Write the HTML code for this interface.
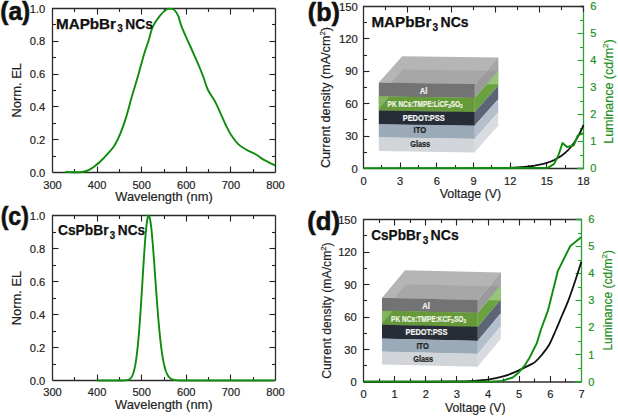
<!DOCTYPE html><html><head><meta charset="utf-8"><style>html,body{margin:0;padding:0;background:#fff;}svg{display:block;}text{font-family:"Liberation Sans",sans-serif;}</style></head><body>
<svg width="618" height="417" viewBox="0 0 618 417">
<rect width="618" height="417" fill="#fff"/>
<line x1="74.5" y1="172.5" x2="74.5" y2="169" stroke="#222222" stroke-width="1.1"/>
<line x1="74.5" y1="8.5" x2="74.5" y2="12" stroke="#222222" stroke-width="1.1"/>
<line x1="97.5" y1="172.5" x2="97.5" y2="166.5" stroke="#222222" stroke-width="1.1"/>
<line x1="97.5" y1="8.5" x2="97.5" y2="14.5" stroke="#222222" stroke-width="1.1"/>
<line x1="119.5" y1="172.5" x2="119.5" y2="169" stroke="#222222" stroke-width="1.1"/>
<line x1="119.5" y1="8.5" x2="119.5" y2="12" stroke="#222222" stroke-width="1.1"/>
<line x1="141.5" y1="172.5" x2="141.5" y2="166.5" stroke="#222222" stroke-width="1.1"/>
<line x1="141.5" y1="8.5" x2="141.5" y2="14.5" stroke="#222222" stroke-width="1.1"/>
<line x1="164.5" y1="172.5" x2="164.5" y2="169" stroke="#222222" stroke-width="1.1"/>
<line x1="164.5" y1="8.5" x2="164.5" y2="12" stroke="#222222" stroke-width="1.1"/>
<line x1="186.5" y1="172.5" x2="186.5" y2="166.5" stroke="#222222" stroke-width="1.1"/>
<line x1="186.5" y1="8.5" x2="186.5" y2="14.5" stroke="#222222" stroke-width="1.1"/>
<line x1="208.5" y1="172.5" x2="208.5" y2="169" stroke="#222222" stroke-width="1.1"/>
<line x1="208.5" y1="8.5" x2="208.5" y2="12" stroke="#222222" stroke-width="1.1"/>
<line x1="230.5" y1="172.5" x2="230.5" y2="166.5" stroke="#222222" stroke-width="1.1"/>
<line x1="230.5" y1="8.5" x2="230.5" y2="14.5" stroke="#222222" stroke-width="1.1"/>
<line x1="253.5" y1="172.5" x2="253.5" y2="169" stroke="#222222" stroke-width="1.1"/>
<line x1="253.5" y1="8.5" x2="253.5" y2="12" stroke="#222222" stroke-width="1.1"/>
<line x1="52.5" y1="156.5" x2="56" y2="156.5" stroke="#222222" stroke-width="1.1"/>
<line x1="275.5" y1="156.5" x2="272" y2="156.5" stroke="#222222" stroke-width="1.1"/>
<line x1="52.5" y1="139.5" x2="58.5" y2="139.5" stroke="#222222" stroke-width="1.1"/>
<line x1="275.5" y1="139.5" x2="269.5" y2="139.5" stroke="#222222" stroke-width="1.1"/>
<line x1="52.5" y1="123.5" x2="56" y2="123.5" stroke="#222222" stroke-width="1.1"/>
<line x1="275.5" y1="123.5" x2="272" y2="123.5" stroke="#222222" stroke-width="1.1"/>
<line x1="52.5" y1="106.5" x2="58.5" y2="106.5" stroke="#222222" stroke-width="1.1"/>
<line x1="275.5" y1="106.5" x2="269.5" y2="106.5" stroke="#222222" stroke-width="1.1"/>
<line x1="52.5" y1="90.5" x2="56" y2="90.5" stroke="#222222" stroke-width="1.1"/>
<line x1="275.5" y1="90.5" x2="272" y2="90.5" stroke="#222222" stroke-width="1.1"/>
<line x1="52.5" y1="74.5" x2="58.5" y2="74.5" stroke="#222222" stroke-width="1.1"/>
<line x1="275.5" y1="74.5" x2="269.5" y2="74.5" stroke="#222222" stroke-width="1.1"/>
<line x1="52.5" y1="57.5" x2="56" y2="57.5" stroke="#222222" stroke-width="1.1"/>
<line x1="275.5" y1="57.5" x2="272" y2="57.5" stroke="#222222" stroke-width="1.1"/>
<line x1="52.5" y1="41.5" x2="58.5" y2="41.5" stroke="#222222" stroke-width="1.1"/>
<line x1="275.5" y1="41.5" x2="269.5" y2="41.5" stroke="#222222" stroke-width="1.1"/>
<line x1="52.5" y1="24.5" x2="56" y2="24.5" stroke="#222222" stroke-width="1.1"/>
<line x1="275.5" y1="24.5" x2="272" y2="24.5" stroke="#222222" stroke-width="1.1"/>
<path d="M52.5,172.5 L52.5,8.5 L275.5,8.5" fill="none" stroke="#2b2b2b" stroke-width="1.3"/>
<path d="M52.5,172.5 L275.5,172.5" fill="none" stroke="#2b2b2b" stroke-width="1.3"/>
<path d="M275.5,8.5 L275.5,172.5" fill="none" stroke="#2b2b2b" stroke-width="1.3"/>
<text x="52.5" y="189" font-size="11.1" text-anchor="middle" fill="#222222" stroke="#222222" stroke-width="0.18" font-weight="normal">300</text>
<text x="97.1" y="189" font-size="11.1" text-anchor="middle" fill="#222222" stroke="#222222" stroke-width="0.18" font-weight="normal">400</text>
<text x="141.7" y="189" font-size="11.1" text-anchor="middle" fill="#222222" stroke="#222222" stroke-width="0.18" font-weight="normal">500</text>
<text x="186.3" y="189" font-size="11.1" text-anchor="middle" fill="#222222" stroke="#222222" stroke-width="0.18" font-weight="normal">600</text>
<text x="230.9" y="189" font-size="11.1" text-anchor="middle" fill="#222222" stroke="#222222" stroke-width="0.18" font-weight="normal">700</text>
<text x="275.5" y="189" font-size="11.1" text-anchor="middle" fill="#222222" stroke="#222222" stroke-width="0.18" font-weight="normal">800</text>
<text x="45.3" y="176.5" font-size="11.2" text-anchor="end" fill="#222222" stroke="#222222" stroke-width="0.18" font-weight="normal">0.0</text>
<text x="45.3" y="143.7" font-size="11.2" text-anchor="end" fill="#222222" stroke="#222222" stroke-width="0.18" font-weight="normal">0.2</text>
<text x="45.3" y="110.9" font-size="11.2" text-anchor="end" fill="#222222" stroke="#222222" stroke-width="0.18" font-weight="normal">0.4</text>
<text x="45.3" y="78.1" font-size="11.2" text-anchor="end" fill="#222222" stroke="#222222" stroke-width="0.18" font-weight="normal">0.6</text>
<text x="45.3" y="45.3" font-size="11.2" text-anchor="end" fill="#222222" stroke="#222222" stroke-width="0.18" font-weight="normal">0.8</text>
<text x="45.3" y="12.5" font-size="11.2" text-anchor="end" fill="#222222" stroke="#222222" stroke-width="0.18" font-weight="normal">1.0</text>
<text x="164" y="201.3" font-size="13.3" text-anchor="middle" fill="#222222" stroke="#222222" stroke-width="0.18" font-weight="normal" textLength="97.5" lengthAdjust="spacingAndGlyphs">Wavelength (nm)</text>
<text x="21.2" y="90.2" font-size="13" text-anchor="middle" fill="#222222" stroke="#222222" stroke-width="0.18" font-weight="normal" textLength="54.5" lengthAdjust="spacingAndGlyphs" transform="rotate(-90 21.2 90.2)">Norm. EL</text>
<path d="M65.2,172 C66.73,172.03 71.6,172.2 74.4,172.2 C77.2,172.2 79.98,172.2 82,172 C84.02,171.8 85.03,171.52 86.5,171 C87.97,170.48 89.28,169.83 90.8,168.9 C92.32,167.97 93.98,166.68 95.6,165.4 C97.22,164.12 98.42,163.22 100.5,161.2 C102.58,159.18 105.77,155.92 108.1,153.3 C110.43,150.68 112.47,148.78 114.5,145.5 C116.53,142.22 118.38,138.25 120.3,133.6 C122.22,128.95 124.1,123.68 126,117.6 C127.9,111.52 129.62,104.33 131.7,97.1 C133.78,89.87 136.42,81.43 138.5,74.2 C140.58,66.97 142.48,59.4 144.2,53.7 C145.92,48 147.37,44.52 148.8,40 C150.23,35.48 150.97,30.63 152.8,26.6 C154.63,22.57 157.55,18.65 159.8,15.8 C162.05,12.95 164.53,10.65 166.3,9.5 C168.07,8.35 169.13,8.88 170.4,8.9 C171.67,8.92 172.6,8.45 173.9,9.6 C175.2,10.75 176.9,12.93 178.2,15.8 C179.5,18.67 179.67,21.68 181.7,26.8 C183.73,31.92 187.52,39.97 190.4,46.5 C193.28,53.03 196.82,60.83 199,66 C201.18,71.17 202,73.5 203.5,77.5 C205,81.5 205.98,85.82 208,90 C210.02,94.18 212.72,96.93 215.6,102.6 C218.48,108.27 222.77,118.68 225.3,124 C227.83,129.32 228.6,131.1 230.8,134.5 C233,137.9 235.9,141.87 238.5,144.4 C241.1,146.93 243.33,147.93 246.4,149.7 C249.47,151.47 254.05,153.35 256.9,155 C259.75,156.65 260.42,157.85 263.5,159.6 C266.58,161.35 273.42,164.52 275.4,165.5" fill="none" stroke="#0e8c0e" stroke-width="1.9" stroke-linejoin="round"/>
<text x="0.3" y="20" font-size="25.4" font-weight="bold" fill="#111" stroke="#111" stroke-width="0.6" textLength="30" lengthAdjust="spacingAndGlyphs">(a)</text>
<text x="56" y="28.6" font-size="15.3" font-weight="bold" fill="#111" stroke="#111" stroke-width="0.25" textLength="60" lengthAdjust="spacingAndGlyphs">MAPbBr</text>
<text x="117.2" y="32.3" font-size="11" font-weight="bold" fill="#111" stroke="#111" stroke-width="0.25" textLength="5.6" lengthAdjust="spacingAndGlyphs">3</text>
<text x="125.3" y="28.6" font-size="15.3" font-weight="bold" fill="#111" stroke="#111" stroke-width="0.25" textLength="27.6" lengthAdjust="spacingAndGlyphs">NCs</text>
<line x1="74.5" y1="380.5" x2="74.5" y2="377" stroke="#222222" stroke-width="1.1"/>
<line x1="74.5" y1="215.5" x2="74.5" y2="219" stroke="#222222" stroke-width="1.1"/>
<line x1="97.5" y1="380.5" x2="97.5" y2="374.5" stroke="#222222" stroke-width="1.1"/>
<line x1="97.5" y1="215.5" x2="97.5" y2="221.5" stroke="#222222" stroke-width="1.1"/>
<line x1="119.5" y1="380.5" x2="119.5" y2="377" stroke="#222222" stroke-width="1.1"/>
<line x1="119.5" y1="215.5" x2="119.5" y2="219" stroke="#222222" stroke-width="1.1"/>
<line x1="141.5" y1="380.5" x2="141.5" y2="374.5" stroke="#222222" stroke-width="1.1"/>
<line x1="141.5" y1="215.5" x2="141.5" y2="221.5" stroke="#222222" stroke-width="1.1"/>
<line x1="164.5" y1="380.5" x2="164.5" y2="377" stroke="#222222" stroke-width="1.1"/>
<line x1="164.5" y1="215.5" x2="164.5" y2="219" stroke="#222222" stroke-width="1.1"/>
<line x1="186.5" y1="380.5" x2="186.5" y2="374.5" stroke="#222222" stroke-width="1.1"/>
<line x1="186.5" y1="215.5" x2="186.5" y2="221.5" stroke="#222222" stroke-width="1.1"/>
<line x1="208.5" y1="380.5" x2="208.5" y2="377" stroke="#222222" stroke-width="1.1"/>
<line x1="208.5" y1="215.5" x2="208.5" y2="219" stroke="#222222" stroke-width="1.1"/>
<line x1="230.5" y1="380.5" x2="230.5" y2="374.5" stroke="#222222" stroke-width="1.1"/>
<line x1="230.5" y1="215.5" x2="230.5" y2="221.5" stroke="#222222" stroke-width="1.1"/>
<line x1="253.5" y1="380.5" x2="253.5" y2="377" stroke="#222222" stroke-width="1.1"/>
<line x1="253.5" y1="215.5" x2="253.5" y2="219" stroke="#222222" stroke-width="1.1"/>
<line x1="52.5" y1="364.5" x2="56" y2="364.5" stroke="#222222" stroke-width="1.1"/>
<line x1="275.5" y1="364.5" x2="272" y2="364.5" stroke="#222222" stroke-width="1.1"/>
<line x1="52.5" y1="347.5" x2="58.5" y2="347.5" stroke="#222222" stroke-width="1.1"/>
<line x1="275.5" y1="347.5" x2="269.5" y2="347.5" stroke="#222222" stroke-width="1.1"/>
<line x1="52.5" y1="331.5" x2="56" y2="331.5" stroke="#222222" stroke-width="1.1"/>
<line x1="275.5" y1="331.5" x2="272" y2="331.5" stroke="#222222" stroke-width="1.1"/>
<line x1="52.5" y1="314.5" x2="58.5" y2="314.5" stroke="#222222" stroke-width="1.1"/>
<line x1="275.5" y1="314.5" x2="269.5" y2="314.5" stroke="#222222" stroke-width="1.1"/>
<line x1="52.5" y1="298.5" x2="56" y2="298.5" stroke="#222222" stroke-width="1.1"/>
<line x1="275.5" y1="298.5" x2="272" y2="298.5" stroke="#222222" stroke-width="1.1"/>
<line x1="52.5" y1="281.5" x2="58.5" y2="281.5" stroke="#222222" stroke-width="1.1"/>
<line x1="275.5" y1="281.5" x2="269.5" y2="281.5" stroke="#222222" stroke-width="1.1"/>
<line x1="52.5" y1="265.5" x2="56" y2="265.5" stroke="#222222" stroke-width="1.1"/>
<line x1="275.5" y1="265.5" x2="272" y2="265.5" stroke="#222222" stroke-width="1.1"/>
<line x1="52.5" y1="248.5" x2="58.5" y2="248.5" stroke="#222222" stroke-width="1.1"/>
<line x1="275.5" y1="248.5" x2="269.5" y2="248.5" stroke="#222222" stroke-width="1.1"/>
<line x1="52.5" y1="232.5" x2="56" y2="232.5" stroke="#222222" stroke-width="1.1"/>
<line x1="275.5" y1="232.5" x2="272" y2="232.5" stroke="#222222" stroke-width="1.1"/>
<path d="M52.5,380.5 L52.5,215.5 L275.5,215.5" fill="none" stroke="#2b2b2b" stroke-width="1.3"/>
<path d="M52.5,380.5 L275.5,380.5" fill="none" stroke="#2b2b2b" stroke-width="1.3"/>
<path d="M275.5,215.5 L275.5,380.5" fill="none" stroke="#2b2b2b" stroke-width="1.3"/>
<text x="52.5" y="396.3" font-size="11.1" text-anchor="middle" fill="#222222" stroke="#222222" stroke-width="0.18" font-weight="normal">300</text>
<text x="97.1" y="396.3" font-size="11.1" text-anchor="middle" fill="#222222" stroke="#222222" stroke-width="0.18" font-weight="normal">400</text>
<text x="141.7" y="396.3" font-size="11.1" text-anchor="middle" fill="#222222" stroke="#222222" stroke-width="0.18" font-weight="normal">500</text>
<text x="186.3" y="396.3" font-size="11.1" text-anchor="middle" fill="#222222" stroke="#222222" stroke-width="0.18" font-weight="normal">600</text>
<text x="230.9" y="396.3" font-size="11.1" text-anchor="middle" fill="#222222" stroke="#222222" stroke-width="0.18" font-weight="normal">700</text>
<text x="275.5" y="396.3" font-size="11.1" text-anchor="middle" fill="#222222" stroke="#222222" stroke-width="0.18" font-weight="normal">800</text>
<text x="45.3" y="384.5" font-size="11.2" text-anchor="end" fill="#222222" stroke="#222222" stroke-width="0.18" font-weight="normal">0.0</text>
<text x="45.3" y="351.5" font-size="11.2" text-anchor="end" fill="#222222" stroke="#222222" stroke-width="0.18" font-weight="normal">0.2</text>
<text x="45.3" y="318.5" font-size="11.2" text-anchor="end" fill="#222222" stroke="#222222" stroke-width="0.18" font-weight="normal">0.4</text>
<text x="45.3" y="285.5" font-size="11.2" text-anchor="end" fill="#222222" stroke="#222222" stroke-width="0.18" font-weight="normal">0.6</text>
<text x="45.3" y="252.5" font-size="11.2" text-anchor="end" fill="#222222" stroke="#222222" stroke-width="0.18" font-weight="normal">0.8</text>
<text x="45.3" y="219.5" font-size="11.2" text-anchor="end" fill="#222222" stroke="#222222" stroke-width="0.18" font-weight="normal">1.0</text>
<text x="163.8" y="409.4" font-size="13.3" text-anchor="middle" fill="#222222" stroke="#222222" stroke-width="0.18" font-weight="normal" textLength="97.5" lengthAdjust="spacingAndGlyphs">Wavelength (nm)</text>
<text x="21.2" y="298" font-size="13" text-anchor="middle" fill="#222222" stroke="#222222" stroke-width="0.18" font-weight="normal" textLength="54.5" lengthAdjust="spacingAndGlyphs" transform="rotate(-90 21.2 298)">Norm. EL</text>
<path d="M97.1,380.5 L99.33,380.5 L101.56,380.5 L103.79,380.5 L106.02,380.5 L108.25,380.5 L110.48,380.5 L112.71,380.5 L114.94,380.5 L115.39,380.5 L115.83,380.5 L116.28,380.5 L116.72,380.5 L117.17,380.5 L117.62,380.5 L118.06,380.5 L118.51,380.5 L118.95,380.5 L119.4,380.5 L119.85,380.5 L120.29,380.5 L120.74,380.49 L121.18,380.49 L121.63,380.49 L122.08,380.49 L122.52,380.48 L122.97,380.47 L123.41,380.46 L123.86,380.45 L124.31,380.43 L124.75,380.41 L125.2,380.38 L125.64,380.35 L126.09,380.3 L126.54,380.24 L126.98,380.17 L127.43,380.07 L127.87,379.95 L128.32,379.8 L128.77,379.61 L129.21,379.38 L129.66,379.09 L130.1,378.75 L130.55,378.32 L131,377.81 L131.44,377.2 L131.89,376.47 L132.33,375.6 L132.78,374.58 L133.23,373.38 L133.67,371.98 L134.12,370.37 L134.56,368.51 L135.01,366.38 L135.46,363.96 L135.9,361.23 L136.35,358.17 L136.79,354.75 L137.24,350.97 L137.69,346.81 L138.13,342.27 L138.58,337.34 L139.02,332.03 L139.47,326.35 L139.92,320.32 L140.36,313.97 L140.81,307.34 L141.25,300.47 L141.7,293.4 L142.15,286.22 L142.59,278.97 L143.04,271.74 L143.48,264.61 L143.93,257.65 L144.38,250.96 L144.82,244.62 L145.27,238.72 L145.71,233.33 L146.16,228.54 L146.61,224.42 L147.05,221.02 L147.5,218.4 L147.94,216.61 L148.39,215.66 L148.84,215.56 L149.28,216.25 L149.73,217.69 L150.17,219.83 L150.62,222.66 L151.07,226.1 L151.51,230.12 L151.96,234.65 L152.4,239.64 L152.85,245 L153.3,250.69 L153.74,256.62 L154.19,262.75 L154.63,269 L155.08,275.31 L155.53,281.63 L155.97,287.91 L156.42,294.1 L156.86,300.17 L157.31,306.06 L157.76,311.76 L158.2,317.23 L158.65,322.46 L159.09,327.43 L159.54,332.13 L159.99,336.55 L160.43,340.69 L160.88,344.55 L161.32,348.13 L161.77,351.44 L162.22,354.48 L162.66,357.28 L163.11,359.83 L163.55,362.15 L164,364.26 L164.45,366.16 L164.89,367.87 L165.34,369.41 L165.78,370.78 L166.23,372 L166.68,373.09 L167.12,374.06 L167.57,374.91 L168.01,375.66 L168.46,376.32 L168.91,376.9 L169.35,377.4 L169.8,377.84 L170.24,378.22 L170.69,378.56 L171.14,378.84 L171.58,379.09 L172.03,379.3 L172.47,379.48 L172.92,379.64 L173.37,379.77 L173.81,379.89 L174.26,379.99 L174.7,380.07 L175.15,380.14 L175.6,380.2 L176.04,380.25 L176.49,380.29 L176.93,380.32 L177.38,380.35 L177.83,380.38 L178.27,380.4 L178.72,380.42 L179.16,380.43 L179.61,380.44 L180.06,380.45 L180.5,380.46 L180.95,380.47 L181.39,380.47 L181.84,380.48 L182.29,380.48 L182.73,380.49 L183.18,380.49 L183.62,380.49 L184.07,380.49 L184.52,380.49 L186.75,380.5 L188.98,380.5 L191.21,380.5 L193.44,380.5 L195.67,380.5 L197.9,380.5 L200.13,380.5 L202.36,380.5 L204.59,380.5 L206.82,380.5 L209.05,380.5 L211.28,380.5 L213.51,380.5 L215.74,380.5 L217.97,380.5 L220.2,380.5 L222.43,380.5 L224.66,380.5 L226.89,380.5 L229.12,380.5 L231.35,380.5 L233.58,380.5 L235.81,380.5 L238.04,380.5 L240.27,380.5 L242.5,380.5 L244.73,380.5 L246.96,380.5 L249.19,380.5 L251.42,380.5 L253.65,380.5 L255.88,380.5 L258.11,380.5 L260.34,380.5 L262.57,380.5 L264.8,380.5 L267.03,380.5 L269.26,380.5 L271.49,380.5 L273.72,380.5" fill="none" stroke="#0e8c0e" stroke-width="1.9" stroke-linejoin="round"/>
<text x="0.7" y="225.3" font-size="25.4" font-weight="bold" fill="#111" stroke="#111" stroke-width="0.6" textLength="28.2" lengthAdjust="spacingAndGlyphs">(c)</text>
<text x="58" y="234.6" font-size="15.3" font-weight="bold" fill="#111" stroke="#111" stroke-width="0.25" textLength="50.5" lengthAdjust="spacingAndGlyphs">CsPbBr</text>
<text x="109.7" y="239.4" font-size="11" font-weight="bold" fill="#111" stroke="#111" stroke-width="0.25" textLength="5.4" lengthAdjust="spacingAndGlyphs">3</text>
<text x="117.8" y="234.6" font-size="15.3" font-weight="bold" fill="#111" stroke="#111" stroke-width="0.25" textLength="27.3" lengthAdjust="spacingAndGlyphs">NCs</text>
<g transform="translate(378.8 82.6) skewY(0.85) translate(-378.8 -82.6)">
<polygon points="474.8,82.6 498.2,55.8 498.2,69.5 474.8,96.3" fill="#9b9b9b"/>
<polygon points="474.8,96.3 498.2,69.5 498.2,83.7 474.8,110.5" fill="#6aa23f"/>
<polygon points="474.8,110.5 498.2,83.7 498.2,97.4 474.8,124.2" fill="#5b6576"/>
<polygon points="474.8,124.2 498.2,97.4 498.2,110.5 474.8,137.3" fill="#b3bfcc"/>
<polygon points="474.8,137.3 498.2,110.5 498.2,123.9 474.8,150.7" fill="#d8dce0"/>
<polygon points="486.76,82.6 498.2,69.5 498.2,82.6" fill="#97c47a"/>
<polygon points="486.5,69.2 498.2,55.8 498.2,69.2" fill="#a6a6a6"/>
<polygon points="378.8,82.6 402.2,55.8 498.2,55.8 474.8,82.6" fill="#b5b5b5"/>
<polygon points="391.4,82.6 403.1,69.2 486.5,69.2 474.8,82.6" fill="#a7a7a7"/>
<rect x="378.8" y="82.6" width="96" height="14" fill="#737373"/>
<rect x="378.8" y="96.3" width="96" height="14.5" fill="#66993a"/>
<rect x="378.8" y="110.5" width="96" height="14" fill="#272d37"/>
<rect x="378.8" y="124.2" width="96" height="13.4" fill="#9baab9"/>
<rect x="378.8" y="137.3" width="96" height="13.7" fill="#d1d5d9"/>
<polygon points="378.8,96.6 389.3,96.6 378.8,109.08" fill="#84b462"/>
</g>
<text x="419.8" y="94.1" font-size="8.6" font-weight="bold" fill="#f2f2f2" stroke="#f2f2f2" stroke-width="0.2" textLength="7.7" lengthAdjust="spacingAndGlyphs">Al</text>
<text x="387.6" y="106.9" font-size="8.6" font-weight="bold" fill="#eef5e6" stroke="#eef5e6" stroke-width="0.2" textLength="75" lengthAdjust="spacingAndGlyphs">PK NCs:TMPE:LiCF<tspan font-size="6" dy="1.5">3</tspan><tspan dy="-1.5">SO</tspan><tspan font-size="6" dy="1.5">3</tspan></text>
<text x="402.7" y="120.6" font-size="8.6" font-weight="bold" fill="#f4f4f4" stroke="#f4f4f4" stroke-width="0.2" textLength="42" lengthAdjust="spacingAndGlyphs">PEDOT:PSS</text>
<text x="413.6" y="133.2" font-size="8.6" font-weight="bold" fill="#1e1e1e" stroke="#1e1e1e" stroke-width="0.2" textLength="12.5" lengthAdjust="spacingAndGlyphs">ITO</text>
<text x="410.2" y="146.6" font-size="8.6" font-weight="bold" fill="#1e1e1e" stroke="#1e1e1e" stroke-width="0.2" textLength="20" lengthAdjust="spacingAndGlyphs">Glass</text>
<line x1="381.5" y1="168.5" x2="381.5" y2="165" stroke="#222222" stroke-width="1.1"/>
<line x1="400.5" y1="168.5" x2="400.5" y2="162.5" stroke="#222222" stroke-width="1.1"/>
<line x1="418.5" y1="168.5" x2="418.5" y2="165" stroke="#222222" stroke-width="1.1"/>
<line x1="436.5" y1="168.5" x2="436.5" y2="162.5" stroke="#222222" stroke-width="1.1"/>
<line x1="455.5" y1="168.5" x2="455.5" y2="165" stroke="#222222" stroke-width="1.1"/>
<line x1="473.5" y1="168.5" x2="473.5" y2="162.5" stroke="#222222" stroke-width="1.1"/>
<line x1="491.5" y1="168.5" x2="491.5" y2="165" stroke="#222222" stroke-width="1.1"/>
<line x1="510.5" y1="168.5" x2="510.5" y2="162.5" stroke="#222222" stroke-width="1.1"/>
<line x1="528.5" y1="168.5" x2="528.5" y2="165" stroke="#222222" stroke-width="1.1"/>
<line x1="546.5" y1="168.5" x2="546.5" y2="162.5" stroke="#222222" stroke-width="1.1"/>
<line x1="565.5" y1="168.5" x2="565.5" y2="165" stroke="#222222" stroke-width="1.1"/>
<line x1="385.5" y1="6.5" x2="385.5" y2="10" stroke="#222222" stroke-width="1.1"/>
<line x1="407.5" y1="6.5" x2="407.5" y2="12.5" stroke="#222222" stroke-width="1.1"/>
<line x1="429.5" y1="6.5" x2="429.5" y2="10" stroke="#222222" stroke-width="1.1"/>
<line x1="451.5" y1="6.5" x2="451.5" y2="12.5" stroke="#222222" stroke-width="1.1"/>
<line x1="473.5" y1="6.5" x2="473.5" y2="10" stroke="#222222" stroke-width="1.1"/>
<line x1="495.5" y1="6.5" x2="495.5" y2="12.5" stroke="#222222" stroke-width="1.1"/>
<line x1="517.5" y1="6.5" x2="517.5" y2="10" stroke="#222222" stroke-width="1.1"/>
<line x1="539.5" y1="6.5" x2="539.5" y2="12.5" stroke="#222222" stroke-width="1.1"/>
<line x1="561.5" y1="6.5" x2="561.5" y2="10" stroke="#222222" stroke-width="1.1"/>
<line x1="363.5" y1="152.5" x2="367" y2="152.5" stroke="#222222" stroke-width="1.1"/>
<line x1="363.5" y1="136.5" x2="369.5" y2="136.5" stroke="#222222" stroke-width="1.1"/>
<line x1="363.5" y1="119.5" x2="367" y2="119.5" stroke="#222222" stroke-width="1.1"/>
<line x1="363.5" y1="103.5" x2="369.5" y2="103.5" stroke="#222222" stroke-width="1.1"/>
<line x1="363.5" y1="87.5" x2="367" y2="87.5" stroke="#222222" stroke-width="1.1"/>
<line x1="363.5" y1="71.5" x2="369.5" y2="71.5" stroke="#222222" stroke-width="1.1"/>
<line x1="363.5" y1="55.5" x2="367" y2="55.5" stroke="#222222" stroke-width="1.1"/>
<line x1="363.5" y1="38.5" x2="369.5" y2="38.5" stroke="#222222" stroke-width="1.1"/>
<line x1="363.5" y1="22.5" x2="367" y2="22.5" stroke="#222222" stroke-width="1.1"/>
<path d="M363.5,168.5 L363.5,6.5 L583.5,6.5" fill="none" stroke="#2b2b2b" stroke-width="1.3"/>
<path d="M363.5,168.5 L583.5,168.5" fill="none" stroke="#2b2b2b" stroke-width="1.3"/>
<line x1="583.5" y1="155.5" x2="580" y2="155.5" stroke="#2aa133" stroke-width="1.1"/>
<line x1="583.5" y1="141.5" x2="577.5" y2="141.5" stroke="#2aa133" stroke-width="1.1"/>
<line x1="583.5" y1="128.5" x2="580" y2="128.5" stroke="#2aa133" stroke-width="1.1"/>
<line x1="583.5" y1="114.5" x2="577.5" y2="114.5" stroke="#2aa133" stroke-width="1.1"/>
<line x1="583.5" y1="101.5" x2="580" y2="101.5" stroke="#2aa133" stroke-width="1.1"/>
<line x1="583.5" y1="87.5" x2="577.5" y2="87.5" stroke="#2aa133" stroke-width="1.1"/>
<line x1="583.5" y1="74.5" x2="580" y2="74.5" stroke="#2aa133" stroke-width="1.1"/>
<line x1="583.5" y1="60.5" x2="577.5" y2="60.5" stroke="#2aa133" stroke-width="1.1"/>
<line x1="583.5" y1="47.5" x2="580" y2="47.5" stroke="#2aa133" stroke-width="1.1"/>
<line x1="583.5" y1="33.5" x2="577.5" y2="33.5" stroke="#2aa133" stroke-width="1.1"/>
<line x1="583.5" y1="20.5" x2="580" y2="20.5" stroke="#2aa133" stroke-width="1.1"/>
<path d="M577,168.5 L583.5,168.5 L583.5,12" fill="none" stroke="#2aa133" stroke-width="1.3"/>
<path d="M580.5,6.5 L583.5,6.5 L583.5,12" fill="none" stroke="#2b2b2b" stroke-width="1.3"/>
<text x="363.5" y="184.5" font-size="11.1" text-anchor="middle" fill="#222222" stroke="#222222" stroke-width="0.18" font-weight="normal">0</text>
<text x="400.17" y="184.5" font-size="11.1" text-anchor="middle" fill="#222222" stroke="#222222" stroke-width="0.18" font-weight="normal">3</text>
<text x="436.83" y="184.5" font-size="11.1" text-anchor="middle" fill="#222222" stroke="#222222" stroke-width="0.18" font-weight="normal">6</text>
<text x="473.5" y="184.5" font-size="11.1" text-anchor="middle" fill="#222222" stroke="#222222" stroke-width="0.18" font-weight="normal">9</text>
<text x="510.17" y="184.5" font-size="11.1" text-anchor="middle" fill="#222222" stroke="#222222" stroke-width="0.18" font-weight="normal">12</text>
<text x="546.83" y="184.5" font-size="11.1" text-anchor="middle" fill="#222222" stroke="#222222" stroke-width="0.18" font-weight="normal">15</text>
<text x="583.5" y="184.5" font-size="11.1" text-anchor="middle" fill="#222222" stroke="#222222" stroke-width="0.18" font-weight="normal">18</text>
<text x="357.9" y="172.5" font-size="11.3" text-anchor="end" fill="#222222" stroke="#222222" stroke-width="0.18" font-weight="normal">0</text>
<text x="357.9" y="140.1" font-size="11.3" text-anchor="end" fill="#222222" stroke="#222222" stroke-width="0.18" font-weight="normal">30</text>
<text x="357.9" y="107.7" font-size="11.3" text-anchor="end" fill="#222222" stroke="#222222" stroke-width="0.18" font-weight="normal">60</text>
<text x="357.9" y="75.3" font-size="11.3" text-anchor="end" fill="#222222" stroke="#222222" stroke-width="0.18" font-weight="normal">90</text>
<text x="357.9" y="42.9" font-size="11.3" text-anchor="end" fill="#222222" stroke="#222222" stroke-width="0.18" font-weight="normal">120</text>
<text x="357.9" y="10.5" font-size="11.3" text-anchor="end" fill="#222222" stroke="#222222" stroke-width="0.18" font-weight="normal">150</text>
<text x="590.2" y="172.1" font-size="11.1" text-anchor="start" fill="#1b8f1b" stroke="#1b8f1b" stroke-width="0.18" font-weight="normal">0</text>
<text x="590.2" y="145.1" font-size="11.1" text-anchor="start" fill="#1b8f1b" stroke="#1b8f1b" stroke-width="0.18" font-weight="normal">1</text>
<text x="590.2" y="118.1" font-size="11.1" text-anchor="start" fill="#1b8f1b" stroke="#1b8f1b" stroke-width="0.18" font-weight="normal">2</text>
<text x="590.2" y="91.1" font-size="11.1" text-anchor="start" fill="#1b8f1b" stroke="#1b8f1b" stroke-width="0.18" font-weight="normal">3</text>
<text x="590.2" y="64.1" font-size="11.1" text-anchor="start" fill="#1b8f1b" stroke="#1b8f1b" stroke-width="0.18" font-weight="normal">4</text>
<text x="590.2" y="37.1" font-size="11.1" text-anchor="start" fill="#1b8f1b" stroke="#1b8f1b" stroke-width="0.18" font-weight="normal">5</text>
<text x="590.2" y="10.1" font-size="11.1" text-anchor="start" fill="#1b8f1b" stroke="#1b8f1b" stroke-width="0.18" font-weight="normal">6</text>
<text x="470.5" y="198.3" font-size="12.4" text-anchor="middle" fill="#222222" stroke="#222222" stroke-width="0.18" font-weight="normal" textLength="61.5" lengthAdjust="spacingAndGlyphs">Voltage (V)</text>
<text x="330.2" y="168" font-size="12.8" fill="#222" stroke="#222" stroke-width="0.18" transform="rotate(-90 330.2 168)" textLength="141" lengthAdjust="spacingAndGlyphs">Current density (mA/cm<tspan font-size="8" dy="-5">2</tspan><tspan dy="5">)</tspan></text>
<text x="613.3" y="143.8" font-size="12.5" fill="#1b8f1b" stroke="#1b8f1b" stroke-width="0.18" transform="rotate(-90 613.3 143.8)" textLength="104.5" lengthAdjust="spacingAndGlyphs">Luminance (cd/m<tspan font-size="8" dy="-5">2</tspan><tspan dy="5">)</tspan></text>
<path d="M497.94,168.13 L499.17,168.1 L500.39,168.07 L501.61,168.04 L502.83,168.01 L504.06,167.98 L505.28,167.94 L506.5,167.9 L507.72,167.86 L508.94,167.81 L510.17,167.77 L511.39,167.71 L512.61,167.66 L513.83,167.6 L515.06,167.54 L516.28,167.47 L517.5,167.4 L518.72,167.32 L519.94,167.23 L521.17,167.14 L522.39,167.05 L523.61,166.95 L524.83,166.84 L526.06,166.72 L527.28,166.6 L528.5,166.46 L529.72,166.32 L530.94,166.16 L532.17,166 L533.39,165.82 L534.61,165.64 L535.83,165.43 L537.06,165.22 L538.28,164.99 L539.5,164.74 L540.72,164.48 L541.94,164.19 L543.17,163.89 L544.39,163.56 L545.61,163.22 L546.83,162.85 L548.06,162.45 L549.28,162.02 L550.5,161.57 L551.72,161.08 L552.94,160.55 L554.17,159.99 L555.39,159.4 L556.61,158.76 L557.83,158.07 L559.06,157.34 L560.28,156.55 L561.5,155.71 L562.72,154.81 L563.94,153.84 L565.17,152.81 L566.39,151.71 L567.61,150.53 L568.83,149.26 L570.06,147.91 L571.28,146.46 L572.5,144.9 L573.72,143.24 L574.94,141.47 L576.17,139.56 L577.39,137.53 L578.61,135.34 L579.83,133.01 L581.06,130.51 L582.28,127.84 L583.5,124.98" fill="none" stroke="#111" stroke-width="1.8"/>
<path d="M363.5,168.1 L547.9,167.9 L554.1,163.9 L558.6,154.8 L562.5,143 L567,147 L573.8,145.3 L577.7,135.7 L581.1,134 L583.4,133.4" fill="none" stroke="#0e8c0e" stroke-width="1.9" stroke-linejoin="round"/>
<text x="307.8" y="20.6" font-size="25.4" font-weight="bold" fill="#111" stroke="#111" stroke-width="0.6" textLength="32" lengthAdjust="spacingAndGlyphs">(b)</text>
<text x="371.4" y="26.6" font-size="15.3" font-weight="bold" fill="#111" stroke="#111" stroke-width="0.25" textLength="60" lengthAdjust="spacingAndGlyphs">MAPbBr</text>
<text x="432.6" y="30.8" font-size="11" font-weight="bold" fill="#111" stroke="#111" stroke-width="0.25" textLength="5.6" lengthAdjust="spacingAndGlyphs">3</text>
<text x="440.6" y="26.6" font-size="15.3" font-weight="bold" fill="#111" stroke="#111" stroke-width="0.25" textLength="28" lengthAdjust="spacingAndGlyphs">NCs</text>
<g transform="translate(382 297.8) skewY(1.3) translate(-382 -297.8)">
<polygon points="477.8,297.8 500.8,269.8 500.8,282.6 477.8,310.6" fill="#9b9b9b"/>
<polygon points="477.8,310.6 500.8,282.6 500.8,296.7 477.8,324.7" fill="#6aa23f"/>
<polygon points="477.8,324.7 500.8,296.7 500.8,310.5 477.8,338.5" fill="#5b6576"/>
<polygon points="477.8,338.5 500.8,310.5 500.8,323.5 477.8,351.5" fill="#b3bfcc"/>
<polygon points="477.8,351.5 500.8,323.5 500.8,336.3 477.8,364.3" fill="#d8dce0"/>
<polygon points="488.31,297.8 500.8,282.6 500.8,297.8" fill="#97c47a"/>
<polygon points="489.3,283.8 500.8,269.8 500.8,283.8" fill="#a6a6a6"/>
<polygon points="382,297.8 405,269.8 500.8,269.8 477.8,297.8" fill="#b5b5b5"/>
<polygon points="394.6,297.8 406.1,283.8 489.3,283.8 477.8,297.8" fill="#a7a7a7"/>
<rect x="382" y="297.8" width="95.8" height="13.1" fill="#737373"/>
<rect x="382" y="310.6" width="95.8" height="14.4" fill="#66993a"/>
<rect x="382" y="324.7" width="95.8" height="14.1" fill="#272d37"/>
<rect x="382" y="338.5" width="95.8" height="13.3" fill="#9baab9"/>
<rect x="382" y="351.5" width="95.8" height="13.1" fill="#d1d5d9"/>
<polygon points="382,310.9 392.5,310.9 382,323.29" fill="#84b462"/>
</g>
<text x="422.3" y="309" font-size="8.6" font-weight="bold" fill="#f2f2f2" stroke="#f2f2f2" stroke-width="0.2" textLength="7.7" lengthAdjust="spacingAndGlyphs">Al</text>
<text x="391" y="321.6" font-size="8.6" font-weight="bold" fill="#eef5e6" stroke="#eef5e6" stroke-width="0.2" textLength="75" lengthAdjust="spacingAndGlyphs">PK NCs:TMPE:KCF<tspan font-size="6" dy="1.5">3</tspan><tspan dy="-1.5">SO</tspan><tspan font-size="6" dy="1.5">3</tspan></text>
<text x="405.5" y="335.3" font-size="8.6" font-weight="bold" fill="#f4f4f4" stroke="#f4f4f4" stroke-width="0.2" textLength="42" lengthAdjust="spacingAndGlyphs">PEDOT:PSS</text>
<text x="416.5" y="348.6" font-size="8.6" font-weight="bold" fill="#1e1e1e" stroke="#1e1e1e" stroke-width="0.2" textLength="12.5" lengthAdjust="spacingAndGlyphs">ITO</text>
<text x="413.2" y="361.6" font-size="8.6" font-weight="bold" fill="#1e1e1e" stroke="#1e1e1e" stroke-width="0.2" textLength="20" lengthAdjust="spacingAndGlyphs">Glass</text>
<line x1="379.5" y1="382" x2="379.5" y2="378.5" stroke="#222222" stroke-width="1.1"/>
<line x1="379.5" y1="219.5" x2="379.5" y2="223" stroke="#222222" stroke-width="1.1"/>
<line x1="394.5" y1="382" x2="394.5" y2="376" stroke="#222222" stroke-width="1.1"/>
<line x1="394.5" y1="219.5" x2="394.5" y2="225.5" stroke="#222222" stroke-width="1.1"/>
<line x1="410.5" y1="382" x2="410.5" y2="378.5" stroke="#222222" stroke-width="1.1"/>
<line x1="410.5" y1="219.5" x2="410.5" y2="223" stroke="#222222" stroke-width="1.1"/>
<line x1="425.5" y1="382" x2="425.5" y2="376" stroke="#222222" stroke-width="1.1"/>
<line x1="425.5" y1="219.5" x2="425.5" y2="225.5" stroke="#222222" stroke-width="1.1"/>
<line x1="441.5" y1="382" x2="441.5" y2="378.5" stroke="#222222" stroke-width="1.1"/>
<line x1="441.5" y1="219.5" x2="441.5" y2="223" stroke="#222222" stroke-width="1.1"/>
<line x1="456.5" y1="382" x2="456.5" y2="376" stroke="#222222" stroke-width="1.1"/>
<line x1="456.5" y1="219.5" x2="456.5" y2="225.5" stroke="#222222" stroke-width="1.1"/>
<line x1="472.5" y1="382" x2="472.5" y2="378.5" stroke="#222222" stroke-width="1.1"/>
<line x1="472.5" y1="219.5" x2="472.5" y2="223" stroke="#222222" stroke-width="1.1"/>
<line x1="488.5" y1="382" x2="488.5" y2="376" stroke="#222222" stroke-width="1.1"/>
<line x1="488.5" y1="219.5" x2="488.5" y2="225.5" stroke="#222222" stroke-width="1.1"/>
<line x1="503.5" y1="382" x2="503.5" y2="378.5" stroke="#222222" stroke-width="1.1"/>
<line x1="503.5" y1="219.5" x2="503.5" y2="223" stroke="#222222" stroke-width="1.1"/>
<line x1="519.5" y1="382" x2="519.5" y2="376" stroke="#222222" stroke-width="1.1"/>
<line x1="519.5" y1="219.5" x2="519.5" y2="225.5" stroke="#222222" stroke-width="1.1"/>
<line x1="534.5" y1="382" x2="534.5" y2="378.5" stroke="#222222" stroke-width="1.1"/>
<line x1="534.5" y1="219.5" x2="534.5" y2="223" stroke="#222222" stroke-width="1.1"/>
<line x1="550.5" y1="382" x2="550.5" y2="376" stroke="#222222" stroke-width="1.1"/>
<line x1="550.5" y1="219.5" x2="550.5" y2="225.5" stroke="#222222" stroke-width="1.1"/>
<line x1="565.5" y1="382" x2="565.5" y2="378.5" stroke="#222222" stroke-width="1.1"/>
<line x1="565.5" y1="219.5" x2="565.5" y2="223" stroke="#222222" stroke-width="1.1"/>
<line x1="363.5" y1="365.5" x2="367" y2="365.5" stroke="#222222" stroke-width="1.1"/>
<line x1="363.5" y1="349.5" x2="369.5" y2="349.5" stroke="#222222" stroke-width="1.1"/>
<line x1="363.5" y1="333.5" x2="367" y2="333.5" stroke="#222222" stroke-width="1.1"/>
<line x1="363.5" y1="317.5" x2="369.5" y2="317.5" stroke="#222222" stroke-width="1.1"/>
<line x1="363.5" y1="300.5" x2="367" y2="300.5" stroke="#222222" stroke-width="1.1"/>
<line x1="363.5" y1="284.5" x2="369.5" y2="284.5" stroke="#222222" stroke-width="1.1"/>
<line x1="363.5" y1="268.5" x2="367" y2="268.5" stroke="#222222" stroke-width="1.1"/>
<line x1="363.5" y1="252.5" x2="369.5" y2="252.5" stroke="#222222" stroke-width="1.1"/>
<line x1="363.5" y1="235.5" x2="367" y2="235.5" stroke="#222222" stroke-width="1.1"/>
<path d="M363.5,382 L363.5,219.5 L581.5,219.5" fill="none" stroke="#2b2b2b" stroke-width="1.3"/>
<path d="M363.5,382 L581.5,382" fill="none" stroke="#2b2b2b" stroke-width="1.3"/>
<line x1="581.5" y1="368.5" x2="578" y2="368.5" stroke="#2aa133" stroke-width="1.1"/>
<line x1="581.5" y1="354.5" x2="575.5" y2="354.5" stroke="#2aa133" stroke-width="1.1"/>
<line x1="581.5" y1="341.5" x2="578" y2="341.5" stroke="#2aa133" stroke-width="1.1"/>
<line x1="581.5" y1="327.5" x2="575.5" y2="327.5" stroke="#2aa133" stroke-width="1.1"/>
<line x1="581.5" y1="314.5" x2="578" y2="314.5" stroke="#2aa133" stroke-width="1.1"/>
<line x1="581.5" y1="300.5" x2="575.5" y2="300.5" stroke="#2aa133" stroke-width="1.1"/>
<line x1="581.5" y1="287.5" x2="578" y2="287.5" stroke="#2aa133" stroke-width="1.1"/>
<line x1="581.5" y1="273.5" x2="575.5" y2="273.5" stroke="#2aa133" stroke-width="1.1"/>
<line x1="581.5" y1="260.5" x2="578" y2="260.5" stroke="#2aa133" stroke-width="1.1"/>
<line x1="581.5" y1="246.5" x2="575.5" y2="246.5" stroke="#2aa133" stroke-width="1.1"/>
<line x1="581.5" y1="233.5" x2="578" y2="233.5" stroke="#2aa133" stroke-width="1.1"/>
<path d="M574.5,382 L581.5,382 L581.5,219.5 L575.8,219.5" fill="none" stroke="#2aa133" stroke-width="1.3"/>
<text x="363.5" y="397.7" font-size="11.1" text-anchor="middle" fill="#222222" stroke="#222222" stroke-width="0.18" font-weight="normal">0</text>
<text x="394.64" y="397.7" font-size="11.1" text-anchor="middle" fill="#222222" stroke="#222222" stroke-width="0.18" font-weight="normal">1</text>
<text x="425.79" y="397.7" font-size="11.1" text-anchor="middle" fill="#222222" stroke="#222222" stroke-width="0.18" font-weight="normal">2</text>
<text x="456.93" y="397.7" font-size="11.1" text-anchor="middle" fill="#222222" stroke="#222222" stroke-width="0.18" font-weight="normal">3</text>
<text x="488.07" y="397.7" font-size="11.1" text-anchor="middle" fill="#222222" stroke="#222222" stroke-width="0.18" font-weight="normal">4</text>
<text x="519.21" y="397.7" font-size="11.1" text-anchor="middle" fill="#222222" stroke="#222222" stroke-width="0.18" font-weight="normal">5</text>
<text x="550.36" y="397.7" font-size="11.1" text-anchor="middle" fill="#222222" stroke="#222222" stroke-width="0.18" font-weight="normal">6</text>
<text x="581.5" y="397.7" font-size="11.1" text-anchor="middle" fill="#222222" stroke="#222222" stroke-width="0.18" font-weight="normal">7</text>
<text x="356.8" y="386" font-size="11.2" text-anchor="end" fill="#222222" stroke="#222222" stroke-width="0.18" font-weight="normal">0</text>
<text x="356.8" y="353.5" font-size="11.2" text-anchor="end" fill="#222222" stroke="#222222" stroke-width="0.18" font-weight="normal">30</text>
<text x="356.8" y="321" font-size="11.2" text-anchor="end" fill="#222222" stroke="#222222" stroke-width="0.18" font-weight="normal">60</text>
<text x="356.8" y="288.5" font-size="11.2" text-anchor="end" fill="#222222" stroke="#222222" stroke-width="0.18" font-weight="normal">90</text>
<text x="356.8" y="256" font-size="11.2" text-anchor="end" fill="#222222" stroke="#222222" stroke-width="0.18" font-weight="normal">120</text>
<text x="356.8" y="223.5" font-size="11.2" text-anchor="end" fill="#222222" stroke="#222222" stroke-width="0.18" font-weight="normal">150</text>
<text x="588.3" y="385.6" font-size="11.1" text-anchor="start" fill="#1b8f1b" stroke="#1b8f1b" stroke-width="0.18" font-weight="normal">0</text>
<text x="588.3" y="358.52" font-size="11.1" text-anchor="start" fill="#1b8f1b" stroke="#1b8f1b" stroke-width="0.18" font-weight="normal">1</text>
<text x="588.3" y="331.43" font-size="11.1" text-anchor="start" fill="#1b8f1b" stroke="#1b8f1b" stroke-width="0.18" font-weight="normal">2</text>
<text x="588.3" y="304.35" font-size="11.1" text-anchor="start" fill="#1b8f1b" stroke="#1b8f1b" stroke-width="0.18" font-weight="normal">3</text>
<text x="588.3" y="277.27" font-size="11.1" text-anchor="start" fill="#1b8f1b" stroke="#1b8f1b" stroke-width="0.18" font-weight="normal">4</text>
<text x="588.3" y="250.18" font-size="11.1" text-anchor="start" fill="#1b8f1b" stroke="#1b8f1b" stroke-width="0.18" font-weight="normal">5</text>
<text x="588.3" y="223.1" font-size="11.1" text-anchor="start" fill="#1b8f1b" stroke="#1b8f1b" stroke-width="0.18" font-weight="normal">6</text>
<text x="475.3" y="411.6" font-size="12.8" text-anchor="middle" fill="#222222" stroke="#222222" stroke-width="0.18" font-weight="normal" textLength="60.5" lengthAdjust="spacingAndGlyphs">Voltage (V)</text>
<text x="330.8" y="378.8" font-size="12.6" fill="#222" stroke="#222" stroke-width="0.18" transform="rotate(-90 330.8 378.8)" textLength="136.5" lengthAdjust="spacingAndGlyphs">Current density (mA/cm<tspan font-size="8" dy="-5">2</tspan><tspan dy="5">)</tspan></text>
<text x="612" y="350.6" font-size="12.2" fill="#1b8f1b" stroke="#1b8f1b" stroke-width="0.18" transform="rotate(-90 612 350.6)" textLength="100.5" lengthAdjust="spacingAndGlyphs">Luminance (cd/m<tspan font-size="8" dy="-5">2</tspan><tspan dy="5">)</tspan></text>
<path d="M363.5,381.6 C372.92,381.6 404.75,381.63 420,381.6 C435.25,381.57 446.67,381.48 455,381.4 C463.33,381.32 465.88,381.27 470,381.1 C474.12,380.93 476.47,380.7 479.7,380.4 C482.93,380.1 485.35,380.02 489.4,379.3 C493.45,378.58 499.95,377.2 504,376.1 C508.05,375 509.37,374.57 513.7,372.7 C518.03,370.83 526.37,366.75 530,364.9 C533.63,363.05 533.38,363.47 535.5,361.6 C537.62,359.73 540.4,356.55 542.7,353.7 C545,350.85 547.1,348.45 549.3,344.5 C551.5,340.55 553.78,334.83 555.9,330 C558.02,325.17 559.87,320.57 562,315.5 C564.13,310.43 566.53,305.27 568.7,299.6 C570.87,293.93 572.9,287.8 575,281.5 C577.1,275.2 580.25,265.08 581.3,261.8" fill="none" stroke="#111" stroke-width="1.8"/>
<path d="M363.5,381.6 L489.4,381.6 L502,380.9 L512.7,377.5 L518.5,372.7 L524.4,365.9 L529.5,357.7 L536.8,343.2 L540.8,330 L548,310.4 L557.9,270.8 L570.3,246 L581.2,237.3" fill="none" stroke="#0e8c0e" stroke-width="1.9" stroke-linejoin="round"/>
<text x="307.2" y="229.6" font-size="25.4" font-weight="bold" fill="#111" stroke="#111" stroke-width="0.6" textLength="32.8" lengthAdjust="spacingAndGlyphs">(d)</text>
<text x="371.3" y="239.6" font-size="15.3" font-weight="bold" fill="#111" stroke="#111" stroke-width="0.25" textLength="49.7" lengthAdjust="spacingAndGlyphs">CsPbBr</text>
<text x="422.7" y="243.6" font-size="11" font-weight="bold" fill="#111" stroke="#111" stroke-width="0.25" textLength="5.6" lengthAdjust="spacingAndGlyphs">3</text>
<text x="430.6" y="239.6" font-size="15.3" font-weight="bold" fill="#111" stroke="#111" stroke-width="0.25" textLength="28.2" lengthAdjust="spacingAndGlyphs">NCs</text>
</svg></body></html>
